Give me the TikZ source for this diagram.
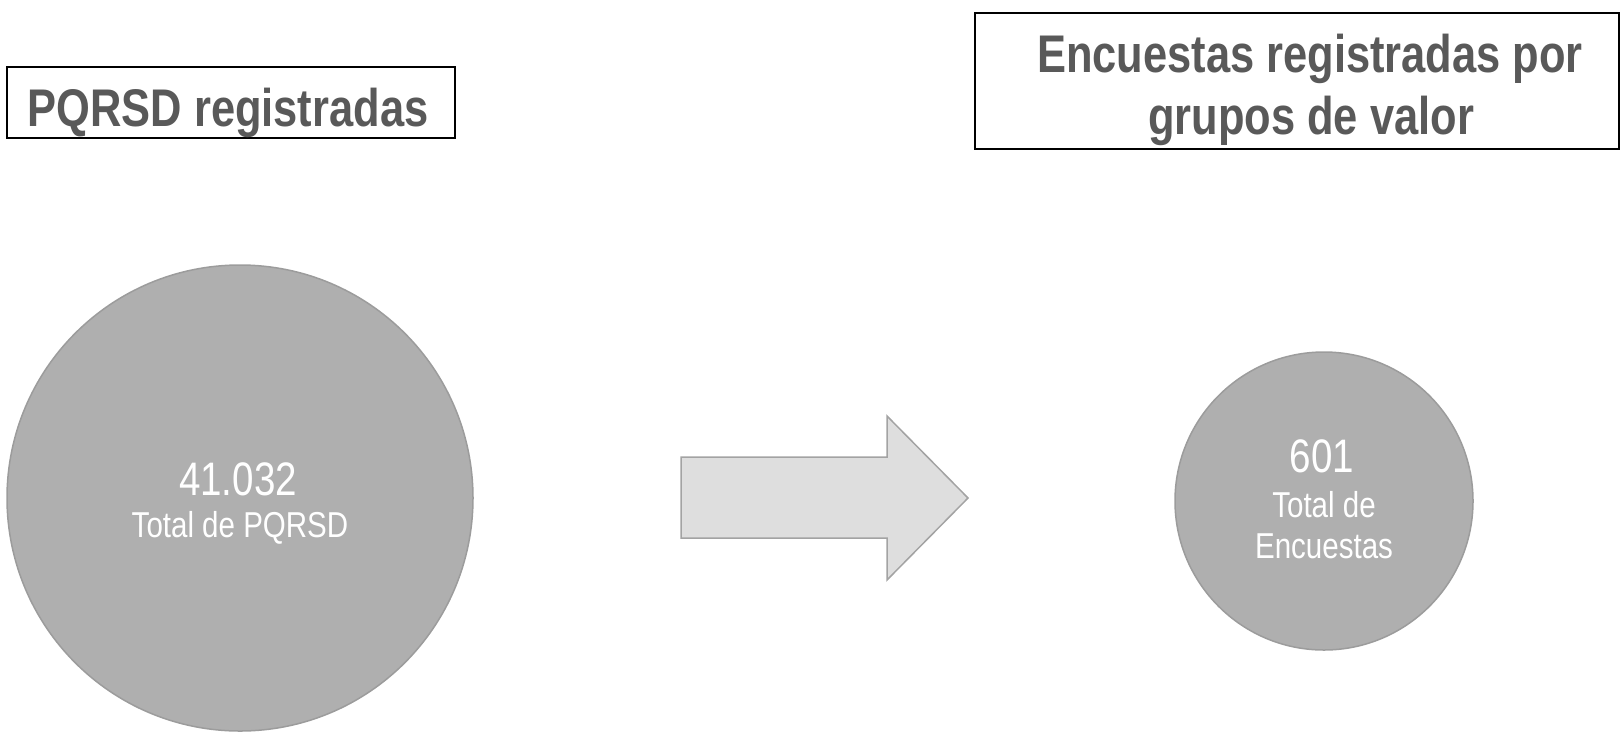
\documentclass[tikz,border=0pt]{standalone}
\usepackage{fontspec}
\setmainfont[FakeStretch=0.82]{Liberation Sans}
\definecolor{titlegray}{HTML}{595959}
\definecolor{discfill}{HTML}{AFAFAF}
\definecolor{discedge}{HTML}{9C9C9C}
\definecolor{arrowfill}{HTML}{DEDEDE}
\definecolor{arrowedge}{HTML}{A3A3A3}
\begin{document}
\begin{tikzpicture}[x=1pt,y=-1pt,
  titlebox/.style={draw=black, line width=2pt, inner sep=0pt},
  titletext/.style={text=titlegray, anchor=base, inner sep=0pt, font=\fontsize{53}{62}\selectfont\bfseries},
  disc/.style={circle, fill=discfill, draw=discedge, line width=1.5pt, inner sep=0pt},
  bignum/.style={text=white, anchor=base, inner sep=0pt, font=\fontsize{47}{50}\selectfont},
  sublabel/.style={text=white, anchor=base, inner sep=0pt, font=\fontsize{36}{40}\selectfont}
]
\tikzset{blockarrow/.style={fill=arrowfill, draw=arrowedge, line width=1.5pt, line join=miter}}
\useasboundingbox (0,0) rectangle (1621,737);
% left title
\node[titlebox, minimum width=448pt, minimum height=71pt] (box1) at (231,102.5) {};
\node[titletext] (title1) at (228,126) {PQRSD registradas};
% right title
\node[titlebox, minimum width=644pt, minimum height=136pt] (box2) at (1297,81) {};
\node[titletext] (title2a) at (1310,72) {Encuestas registradas por};
\node[titletext] (title2b) at (1311,134) {grupos de valor};
% left disc
\node[disc, minimum size=466pt] (disc1) at (240,498) {};
\node[bignum] (num1) at (238,495) {41.032};
\node[sublabel] (lab1) at (240,537) {Total de PQRSD};
% right disc
\node[disc, minimum size=298pt] (disc2) at (1324,501) {};
\node[bignum] (num2) at (1322,472) {601};
\node[sublabel] (lab2a) at (1324,517) {Total de};
\node[sublabel] (lab2b) at (1324,558) {Encuestas};
% block arrow
\draw[blockarrow] (681,457) -- (887,457) -- (887,416) -- (968,498) -- (887,580) -- (887,538) -- (681,538) -- cycle;
\end{tikzpicture}
\end{document}
